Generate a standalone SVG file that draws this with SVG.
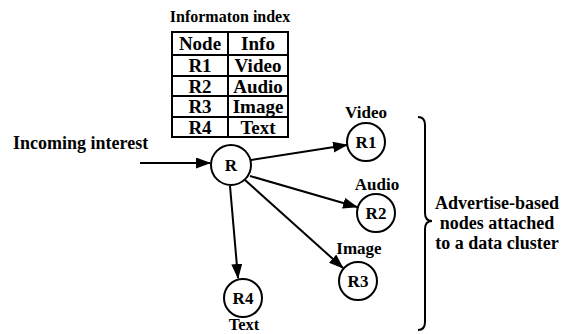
<svg xmlns="http://www.w3.org/2000/svg" width="567" height="334" viewBox="0 0 567 334" font-family="'Liberation Serif', 'DejaVu Serif', serif" font-weight="bold" font-size="17">
<style>
.c{text-anchor:middle;}
.cell{text-anchor:middle;font-size:19px;}
.node{fill:#fff;stroke:#000;stroke-width:2;}
.tb{fill:none;stroke:#000;stroke-width:2;}
.edge{stroke:#000;stroke-width:2;fill:none;marker-end:url(#ah);}
.big{font-size:18px;}
</style>
<defs>
<marker id="ah" markerWidth="15" markerHeight="11" refX="14" refY="5.5" orient="auto" markerUnits="userSpaceOnUse">
<path d="M0,0 L15,5.5 L0,11 z" fill="#000"/>
</marker>
</defs>
<rect width="567" height="334" fill="#fff"/>
<g id="index">
<text class="c" x="230" y="22" font-size="16">Informaton index</text>
<rect class="tb" x="172" y="32" width="116" height="105"/>
<line class="tb" x1="228" y1="32" x2="228" y2="137"/>
<line class="tb" x1="172" y1="55" x2="288" y2="55"/>
<line class="tb" x1="172" y1="76" x2="288" y2="76"/>
<line class="tb" x1="172" y1="96" x2="288" y2="96"/>
<line class="tb" x1="172" y1="117" x2="288" y2="117"/>
<text class="cell" x="200" y="50">Node</text>
<text class="cell" x="258" y="50">Info</text>
<text class="cell" x="200" y="72">R1</text>
<text class="cell" x="258" y="72">Video</text>
<text class="cell" x="200" y="93">R2</text>
<text class="cell" x="258" y="93">Audio</text>
<text class="cell" x="200" y="113">R3</text>
<text class="cell" x="258" y="113">Image</text>
<text class="cell" x="200" y="134">R4</text>
<text class="cell" x="258" y="134">Text</text>
</g>
<g id="connectors">
<line class="edge" x1="140" y1="163" x2="210" y2="163"/>
<line class="edge" x1="251" y1="160" x2="347" y2="145"/>
<line class="edge" x1="250" y1="176" x2="357" y2="207"/>
<line class="edge" x1="245" y1="180" x2="343" y2="268"/>
<line class="edge" x1="230" y1="186" x2="238" y2="278"/>
</g>
<g id="incoming"><text class="big" x="13" y="149">Incoming interest</text></g>
<g id="R"><circle class="node" cx="231" cy="165" r="20"/><text class="c" x="231" y="171">R</text></g>
<g id="R1"><circle class="node" cx="366" cy="142" r="19"/><text class="c" x="366" y="148">R1</text><text class="c" x="366" y="118">Video</text></g>
<g id="R2"><circle class="node" cx="376" cy="213" r="19"/><text class="c" x="376" y="219">R2</text><text class="c" x="377" y="190">Audio</text></g>
<g id="R3"><circle class="node" cx="358" cy="281" r="19"/><text class="c" x="358" y="287">R3</text><text class="c" x="359" y="254">Image</text></g>
<g id="R4"><circle class="node" cx="243" cy="298" r="19"/><text class="c" x="243" y="304">R4</text><text class="c" x="244" y="330" font-size="16.5">Text</text></g>
<g id="cluster">
<path d="M418,117 Q425,117 425,125 L425,213 Q425,221 432,221 Q425,221 425,229 L425,322 Q425,330 418,330" fill="none" stroke="#000" stroke-width="2"/>
<text class="c big" x="497" y="209">Advertise-based</text>
<text class="c big" x="497" y="229">nodes attached</text>
<text class="c big" x="497" y="249">to a data cluster</text>
</g>
</svg>
